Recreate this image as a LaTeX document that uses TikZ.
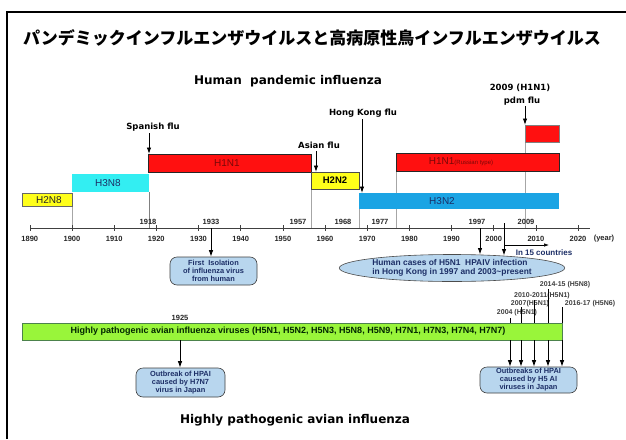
\documentclass[tikz,border=0pt]{standalone}
\usepackage{fontspec}
\setmainfont{Liberation Sans}
\newfontfamily\jpfont{Noto Sans CJK JP}
\newfontfamily\headfont{DejaVu Sans}
\usetikzlibrary{arrows.meta,shapes.geometric,backgrounds}
\definecolor{barred}{HTML}{FF1010}
\definecolor{baryellow}{HTML}{FFFF1A}
\definecolor{barcyan}{HTML}{33EEF2}
\definecolor{barblue}{HTML}{1BA4E4}
\definecolor{bargreen}{HTML}{99F53A}
\definecolor{boxblue}{HTML}{B8D6EE}
\definecolor{navy}{HTML}{1C2E66}
\definecolor{darkred}{HTML}{7A0808}
\begin{document}
\begin{tikzpicture}[x=1pt,y=-1pt,
  bar/.style={anchor=north west, inner sep=0pt, outer sep=0pt},
  barlbl/.style={font=\fontsize{10}{11}\selectfont, inner sep=0pt},
  evt/.style={font=\headfont\bfseries\fontsize{8.5}{9}\selectfont, inner sep=0pt},
  head/.style={font=\headfont\bfseries\fontsize{12}{13}\selectfont, inner sep=0pt},
  yrlbl/.style={font=\bfseries\fontsize{7.5}{8}\selectfont, inner sep=0pt, text=black!85},
  hplbl/.style={font=\bfseries\fontsize{7}{7.5}\selectfont, inner sep=0pt, text=black!75},
  vline/.style={gray!70, line width=0.5pt},
  axisline/.style={black!75, line width=0.6pt},
  arr/.style={-{Latex[length=6.5pt,width=4.5pt]}, line width=0.9pt},
  infobox/.style={draw=black!75, fill=boxblue, rounded corners=7pt, line width=0.6pt, text=navy, font=\bfseries\fontsize{7.4}{8}\selectfont, align=center, inner sep=0pt},
]
\useasboundingbox (0,0) rectangle (626,439);
% frame
\draw[line width=1.2pt] (7,439) -- (7,12) -- (626,12);
% titles
\node[font=\jpfont\bfseries\fontsize{17}{18}\selectfont, inner sep=0pt] (title) at (312,38) {パンデミックインフルエンザウイルスと高病原性鳥インフルエンザウイルス};
\node[head] (hpi) at (288,81) {Human\ \ pandemic influenza};
\node[head] (hpai) at (295,420) {Highly pathogenic avian influenza};
% axis
\coordinate (ax0) at (30,228);
\coordinate (ax1) at (590,228);
\draw[axisline] (ax0) -- (ax1);
\foreach \yy/\xx in {1890/29.8,1900/72,1910/114.2,1920/156.3,1930/198.5,1940/240.7,1950/282.9,1960/325,1970/367.2,1980/409.4,1990/451.5,2000/493.7,2010/535.9,2020/578}{
  \draw[axisline] (\xx,225) -- (\xx,230.5);
  \node[yrlbl] (y\yy) at (\xx,238.5) {\yy};
}
\node[yrlbl] (yearlbl) at (604,238.5) {(year)};
% event years
\node[yrlbl] (e1918) at (148,222) {1918};
\node[yrlbl] (e1933) at (211,222) {1933};
\node[yrlbl] (e1957) at (298,222) {1957};
\node[yrlbl] (e1968) at (343,222) {1968};
\node[yrlbl] (e1977) at (380,222) {1977};
\node[yrlbl] (e1997) at (477,222) {1997};
\node[yrlbl] (e2009) at (526,222) {2009};
% bars
\node[bar, fill=baryellow, draw=black!60, line width=0.5pt, minimum width=50pt, minimum height=13pt] (h2n8) at (22,193) {};
\node[bar, fill=barcyan, minimum width=77pt, minimum height=18pt] (h3n8) at (72,174) {};
\node[bar, fill=barred, draw=black!85, line width=0.6pt, minimum width=163pt, minimum height=18pt] (h1n1a) at (148,154) {};
\node[bar, fill=baryellow, draw=black!70, line width=0.5pt, minimum width=48pt, minimum height=17pt] (h2n2) at (311,172) {};
\node[bar, fill=barblue, minimum width=200pt, minimum height=16pt] (h3n2) at (359,193) {};
\node[bar, fill=barred, draw=black!85, line width=0.6pt, minimum width=163pt, minimum height=18pt] (h1n1b) at (396,153) {};
\node[bar, fill=barred, draw=black!50, line width=0.5pt, minimum width=34pt, minimum height=17pt] (pdm) at (525,125) {};
% bar labels
\node[barlbl, text=black!85] (t2n8) at (49,200.5) {H2N8};
\node[barlbl, text=navy] (t3n8) at (108,183) {H3N8};
\node[barlbl, text=darkred] (t1n1a) at (227,163) {H1N1};
\node[barlbl, text=black, font=\bfseries\fontsize{9.5}{10}\selectfont] (t2n2) at (335,180.5) {H2N2};
\node[barlbl, text=navy] (t3n2) at (442,201) {H3N2};
\node[barlbl, text=darkred] (t1n1b) at (461,162) {H1N1{\fontsize{6}{6}\selectfont(Russian type)}};
% grey guide lines (background)
\begin{scope}[on background layer]
  \fill[white] (0,0) rectangle (626,439);
  \draw[vline] (h2n8.south east) -- (h2n8.south east |- ax0);
  \draw[vline, gray] (h3n8.south east) -- (h3n8.south east |- ax0);
  \draw[vline] (h2n2.south west) -- (h2n2.south west |- ax0);
  \draw[vline] (h3n2.south west) -- (h3n2.south west |- ax0);
  \draw[vline] (h1n1b.south west) -- (h1n1b.south west |- ax0);
  \draw[vline] (pdm.south west) -- (pdm.south west |- ax0);
\end{scope}
% pandemic labels and arrows
\node[evt] (spanish) at (153,127) {Spanish flu};
\coordinate (sparr) at (149,133);
\draw[arr] (sparr) -- (sparr |- h1n1a.north);
\node[evt] (asian) at (319,145) {Asian flu};
\coordinate (asarr) at (316,151);
\draw[arr] (asarr) -- (asarr |- h2n2.north);
\node[evt] (hongkong) at (363,113) {Hong Kong flu};
\coordinate (hkarr) at (362,119);
\draw[arr] (hkarr) -- (hkarr |- h3n2.north);
\node[evt] (y2009) at (520,88) {2009 (H1N1)};
\node[evt] (pdmflu) at (522,101) {pdm flu};
\coordinate (pdarr) at (525,106);
\draw[arr] (pdarr) -- (pdarr |- pdm.north);
% human side boxes
\node[infobox, minimum width=87pt, minimum height=28pt] (iso) at (213.5,271) {First\ \ Isolation\\of influenza virus\\from human};
\coordinate (a1933) at (211,228);
\draw[arr] (a1933) -- (a1933 |- iso.north);
\node[ellipse, draw=black!70, fill=boxblue, line width=0.6pt, minimum width=200pt, minimum height=27pt, inner sep=0pt, text=navy, font=\bfseries\fontsize{8.4}{9}\selectfont, align=left] (hk) at (452,268) {Human cases of H5N1\ \ HPAIV infection\\in Hong Kong in 1997 and 2003\textasciitilde present};
\coordinate (a1997) at (480,228);
\draw[arr] (a1997) -- (480,254.5);
\coordinate (a2003) at (504,223);
\draw[arr] (a2003) -- (504,255.5);
\coordinate (c15a) at (504,245);
\coordinate (c15b) at (549,245);
\draw[-{Latex[length=5pt,width=3.5pt]}, line width=0.7pt] (c15a) -- (c15b);
\node[font=\bfseries\fontsize{8}{8.6}\selectfont, text=navy, inner sep=0pt] (cty) at (544,253) {In 15 countries};
% avian bar
\node[yrlbl] (e1925) at (180,318) {1925};
\node[bar, fill=bargreen, draw=green!30!black!70, line width=0.5pt, minimum width=540pt, minimum height=17pt] (avian) at (22,323) {};
\node[font=\bfseries\fontsize{9}{9.5}\selectfont, text=black!85!green, inner sep=0pt] (aviantxt) at (288,331.5) {Highly pathogenic avian influenza viruses (H5N1, H5N2, H5N3, H5N8, H5N9, H7N1, H7N3, H7N4, H7N7)};
% H5 labels and lines
\node[hplbl] (l2014) at (565,285) {2014-15 (H5N8)};
\node[hplbl] (l2010) at (542,296) {2010-2011(H5N1)};
\node[hplbl] (l2007) at (530,303.5) {2007(H5N1)};
\node[hplbl] (l2016) at (590,303.5) {2016-17 (H5N6)};
\node[hplbl] (l2004) at (517,313) {2004 (H5N1)};
\coordinate (v2004) at (510,318);
\coordinate (v2007) at (521,307);
\coordinate (v2010) at (534,300);
\coordinate (v2014) at (548,289);
\coordinate (v2016) at (562,307);
\foreach \v in {v2004,v2007,v2010,v2014,v2016}{
  \draw[line width=0.7pt] (\v) -- (\v |- avian.north);
}
% outbreak boxes
\node[infobox, minimum width=89pt, minimum height=29pt] (h7box) at (180.5,382.5) {Outbreak of HPAI\\caused by H7N7\\virus in Japan};
\coordinate (a1925) at (180,340);
\draw[arr] (a1925 |- avian.south) -- (a1925 |- h7box.north);
\node[infobox, minimum width=97pt, minimum height=26pt] (h5box) at (528.5,380) {Outbreaks of HPAI\\caused by H5 AI\\viruses in Japan};
\foreach \v in {v2004,v2007,v2010,v2014,v2016}{
  \draw[arr] (\v |- avian.south) -- (\v |- h5box.north);
}
\end{tikzpicture}
\end{document}
